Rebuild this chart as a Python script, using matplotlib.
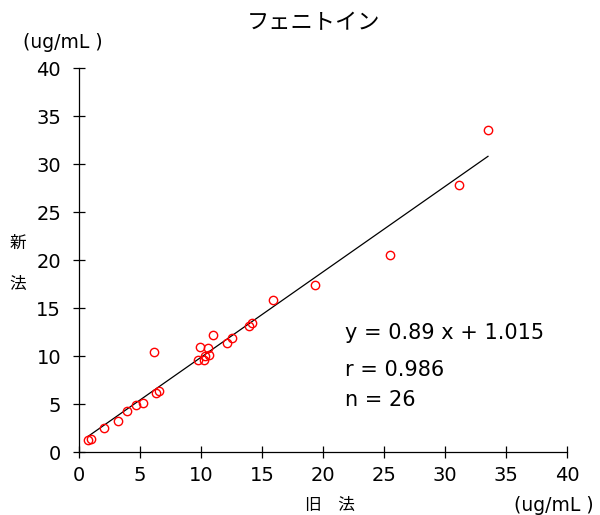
import numpy as np
import matplotlib.pyplot as plt

plt.rcParams['font.family'] = ['DejaVu Sans', 'Noto Sans CJK JP']

# 旧法 / 新法 (ug/mL)
kyuho = [0.74, 0.98, 2.05, 3.17, 3.88, 4.67, 5.2, 6.1, 6.29, 6.5,
         9.73, 9.89, 10.2, 10.3, 10.57, 10.63, 10.98, 12.08, 12.49, 13.88,
         14.18, 15.88, 19.3, 25.5, 31.1, 33.5]
shinho = [1.25, 1.38, 2.5, 3.3, 4.3, 4.96, 5.17, 10.5, 6.18, 6.39,
          9.58, 11.0, 9.58, 10.0, 10.9, 10.1, 12.2, 11.4, 11.9, 13.2,
          13.5, 15.9, 17.43, 20.6, 27.8, 33.6]
slope = 0.89
intercept = 1.015
ticks = [0, 5, 10, 15, 20, 25, 30, 35, 40]

jp = ['Noto Sans CJK JP', 'DejaVu Sans']

fig = plt.figure(figsize=(6, 5.15), dpi=100)
ax = fig.add_axes([0.132, 0.1217, 0.8135, 0.7457])

xl = np.array([min(kyuho), max(kyuho)])
ax.plot(xl, slope * xl + intercept, color='black', lw=0.9)
ax.plot(kyuho, shinho, 'o', mfc='none', mec='red', ms=6, mew=1)

ax.set_xlim(0, 40)
ax.set_ylim(0, 40)
ax.set_xticks(ticks)
ax.set_yticks(ticks)
ax.tick_params(direction='inout', length=8, width=0.9, labelsize=14)
ax.tick_params(axis='y', pad=9)
ax.tick_params(axis='x', pad=6)
ax.spines['top'].set_visible(False)
ax.spines['right'].set_visible(False)
for s in ['left', 'bottom']:
    ax.spines[s].set_linewidth(0.9)

ax.text(21.8, 12.45, 'y = 0.89 x + 1.015', fontsize=15, va='center')
ax.text(21.8, 8.6, 'r = 0.986', fontsize=15, va='center')
ax.text(21.8, 5.45, 'n = 26', fontsize=15, va='center')

fig.text(0.522, 0.957, 'フェニトイン', fontsize=16, ha='center', va='center', family=jp)
fig.text(0.038, 0.918, '(ug/mL )', fontsize=13.5, ha='left', va='center')
fig.text(0.03, 0.527, '新', fontsize=12, ha='center', va='center', family=jp)
fig.text(0.03, 0.447, '法', fontsize=12, ha='center', va='center', family=jp)
fig.text(0.55, 0.018, '旧　法', fontsize=12, ha='center', va='center', family=jp)
fig.text(0.857, 0.018, '(ug/mL )', fontsize=13.5, ha='left', va='center')

fig.savefig('out.png', dpi=100)
